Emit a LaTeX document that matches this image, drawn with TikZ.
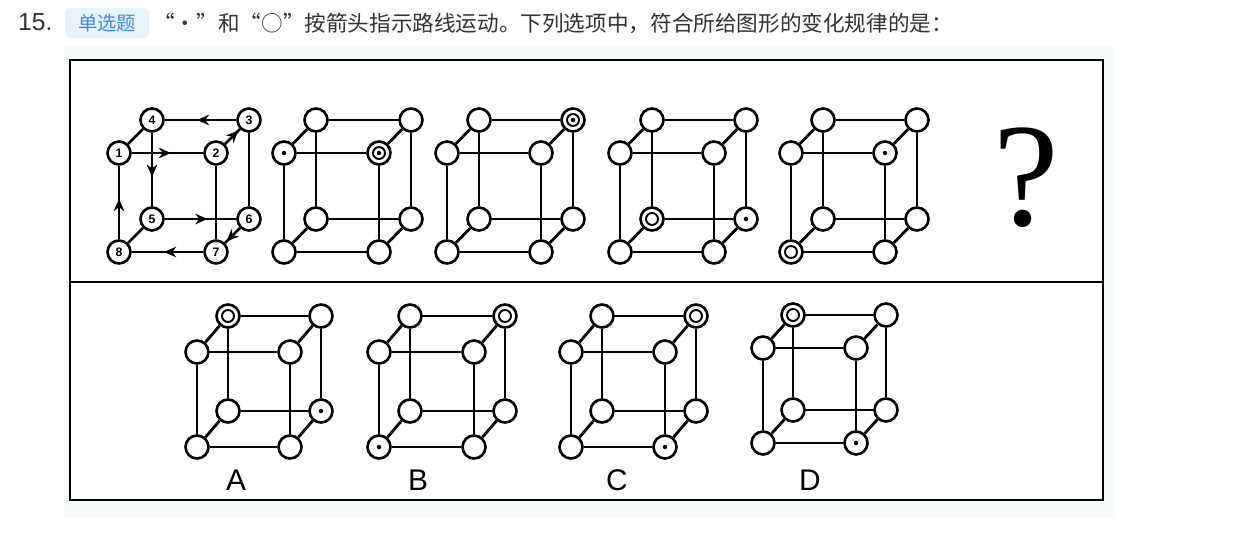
\documentclass[tikz,border=0pt]{standalone}
\usepackage{fontspec}
\setmainfont{Liberation Sans}
\newfontfamily\cjk{Noto Sans CJK SC}
\newfontfamily\serifq{Liberation Serif}
\usetikzlibrary{arrows.meta,decorations.markings}

\definecolor{pagebg}{HTML}{F7FAFA}
\definecolor{badgebg}{HTML}{E8F2FB}
\definecolor{badgefg}{HTML}{3D8BE0}
\definecolor{headfg}{HTML}{333333}

\tikzset{
  vtx/.style={circle,draw,fill=white,line width=1.5pt,minimum size=0.46cm,inner sep=0pt,font=\fontsize{7}{7}\selectfont\bfseries},
  edge/.style={line width=1.6pt},
  midarrow/.style={postaction={decorate},decoration={markings,mark=at position #1 with {\arrow{Stealth[length=7pt,width=6pt]}}}}
}

% cube: name, x, y (front top left), width, height, dx, dy
\newcommand{\placecube}[7]{
  \node [vtx] (#1-1) at (#2,#3) {};
  \node [vtx] (#1-2) at (#2+#4,#3) {};
  \node [vtx] (#1-3) at (#2+#4+#6,#3-#7) {};
  \node [vtx] (#1-4) at (#2+#6,#3-#7) {};
  \node [vtx] (#1-5) at (#2+#6,#3+#5-#7) {};
  \node [vtx] (#1-6) at (#2+#4+#6,#3+#5-#7) {};
  \node [vtx] (#1-7) at (#2+#4,#3+#5) {};
  \node [vtx] (#1-8) at (#2,#3+#5) {};
}
\newcommand{\cubeedges}[1]{
  \foreach \a/\b in {1/2,2/7,7/8,8/1,4/3,3/6,6/5,5/4,1/4,2/3,7/6,8/5}
    \draw [edge] (#1-\a) -- (#1-\b);
}
\newcommand{\ringat}[1]{\draw [line width=1.1pt] (#1) circle (0.12cm);}
\newcommand{\dotat}[1]{\fill (#1) circle (0.045cm);}

\begin{document}
\begin{tikzpicture}[x=0.02cm,y=-0.02cm]
\useasboundingbox (0,0) rectangle (1251,534);
\fill [white] (0,0) rectangle (1251,534);
\fill [pagebg] (64,45) rectangle (1113,518);

% header
\node [anchor=west,text=headfg,font=\fontsize{14}{14}\selectfont] (num) at (12,22) {15.};
\fill [badgebg,rounded corners=3pt] (65,8) rectangle (149,38);
\node [text=badgefg,font=\cjk\fontsize{11}{11}\selectfont] (badge) at (107,23) {单选题};
\node [anchor=west,text=headfg,font=\cjk\fontsize{12.3}{13}\selectfont,inner sep=0pt] (question) at (153,23)
  {“·”和“○”按箭头指示路线运动。下列选项中，符合所给图形的变化规律的是：};

% frame
\draw [line width=1.3pt,fill=white] (70,60) rectangle (1103,500);
\draw [line width=1.3pt] (70,282) -- (1103,282);

% first row
\placecube{q1}{119}{153}{97}{99}{33}{33}
\foreach \k in {1,...,8} \node at (q1-\k) {\fontsize{7}{7}\selectfont\bfseries\k};
\draw [edge,midarrow=0.55] (q1-1) -- (q1-2);
\draw [edge,midarrow=0.9] (q1-2) -- (q1-3);
\draw [edge,midarrow=0.55] (q1-3) -- (q1-4);
\draw [edge,midarrow=0.6] (q1-4) -- (q1-5);
\draw [edge,midarrow=0.6] (q1-5) -- (q1-6);
\draw [edge,midarrow=0.9] (q1-6) -- (q1-7);
\draw [edge,midarrow=0.55] (q1-7) -- (q1-8);
\draw [edge,midarrow=0.55] (q1-8) -- (q1-1);
\foreach \a/\b in {2/7,6/3,1/4,8/5} \draw [edge] (q1-\a) -- (q1-\b);

\placecube{q2}{284}{153}{95}{99}{32}{33}
\cubeedges{q2}
\dotat{q2-1} \ringat{q2-2} \dotat{q2-2}

\placecube{q3}{447}{153}{94}{99}{32}{33}
\cubeedges{q3}
\ringat{q3-3} \dotat{q3-3}

\placecube{q4}{620}{153}{94}{99}{32}{33}
\cubeedges{q4}
\ringat{q4-5} \dotat{q4-6}

\placecube{q5}{791}{153}{94}{99}{32}{33}
\cubeedges{q5}
\ringat{q5-8} \dotat{q5-2}

\node [font=\serifq\fontsize{84}{84}\selectfont] (mark) at (1026,178) {?};

% options
\placecube{oa}{197}{352}{93}{95}{31}{36}
\cubeedges{oa}
\ringat{oa-4} \dotat{oa-6}
\node [font=\fontsize{17}{17}\selectfont] (la) at (236,480) {A};

\placecube{ob}{379}{352}{95}{95}{31}{36}
\cubeedges{ob}
\ringat{ob-3} \dotat{ob-8}
\node [font=\fontsize{17}{17}\selectfont] (lb) at (418,480) {B};

\placecube{oc}{571}{352}{94}{95}{31}{36}
\cubeedges{oc}
\ringat{oc-3} \dotat{oc-7}
\node [font=\fontsize{17}{17}\selectfont] (lc) at (617,480) {C};

\placecube{od}{763}{348}{93}{95}{30}{33}
\cubeedges{od}
\ringat{od-4} \dotat{od-7}
\node [font=\fontsize{17}{17}\selectfont] (ld) at (810,480) {D};
\end{tikzpicture}
\end{document}
